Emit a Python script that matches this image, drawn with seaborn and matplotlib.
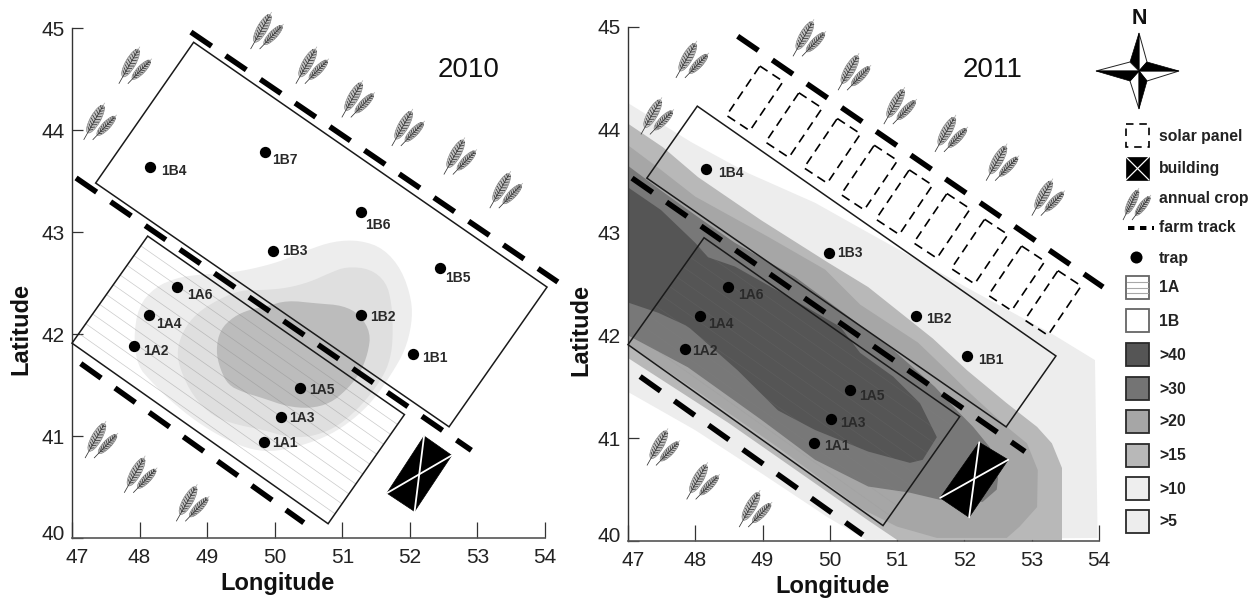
import numpy as np
import pandas as pd
import matplotlib
matplotlib.use("Agg")
import matplotlib.pyplot as plt
import seaborn as sns
from matplotlib.patches import Polygon, Ellipse, Rectangle
from matplotlib.collections import LineCollection
from matplotlib.transforms import Affine2D, ScaledTranslation

# ---------- data (longitude / latitude) ----------
traps_2010 = ["1B4", "1B7", "1B6", "1B3", "1B5", "1A6", "1B2", "1A4", "1A2", "1B1", "1A5", "1A3", "1A1"]
lon_2010 = [48.16, 49.85, 51.27, 49.97, 52.44, 48.56, 51.27, 48.14, 47.92, 52.04, 50.38, 50.09, 49.84]
lat_2010 = [43.64, 43.78, 43.20, 42.81, 42.65, 42.46, 42.19, 42.19, 41.88, 41.80, 41.47, 41.19, 40.94]
off_2010 = [(11, 4), (8, 8), (5, 13), (9, 0), (6, 10), (10, 8), (10, 2), (7, 9), (9, 5), (10, 4), (9, 2), (8, 1), (8, 1)]

traps_2011 = ["1B4", "1B3", "1A6", "1A4", "1A2", "1A5", "1A3", "1A1", "1B2", "1B1"]
lon_2011 = [48.16, 49.98, 48.49, 48.07, 47.84, 50.30, 50.01, 49.76, 51.28, 52.04]
lat_2011 = [43.62, 42.80, 42.47, 42.19, 41.87, 41.47, 41.19, 40.95, 42.19, 41.80]
off_2011 = [(12, 4), (9, 0), (10, 8), (8, 8), (8, 2), (9, 6), (10, 4), (10, 3), (10, 3), (11, 4)]

field_1B_2010 = [(48.80, 44.86), (54.03, 42.46), (52.58, 41.09), (47.35, 43.48)]
field_1A_2010 = [(48.12, 42.96), (51.92, 41.21), (50.79, 40.14), (47.00, 41.91)]
field_1B_2011 = [(48.03, 44.23), (53.36, 41.80), (52.62, 41.11), (47.28, 43.53)]
field_1A_2011 = [(48.13, 42.95), (51.93, 41.21), (50.79, 40.15), (47.00, 41.91)]

building_2010 = [(52.21, 41.00), (52.62, 40.81), (52.07, 40.26), (51.66, 40.44)]
building_2011 = [(52.22, 40.96), (52.65, 40.79), (52.07, 40.23), (51.64, 40.42)]

tracks_2010 = [[(48.76, 44.96), (54.19, 42.51)], [(47.06, 43.53), (52.91, 40.86)], [(47.13, 41.71), (50.43, 40.15)]]
tracks_2011 = [[(48.63, 44.91), (54.06, 42.47)], [(47.06, 43.53), (52.90, 40.87)], [(47.18, 41.60), (50.49, 40.06)]]

crops_2010 = [(47.93, 44.64), (49.88, 44.98), (50.55, 44.64), (51.23, 44.31), (51.97, 44.03), (52.74, 43.75),
              (53.42, 43.42), (47.41, 44.09), (47.43, 40.97), (48.01, 40.63), (48.78, 40.35)]
crops_2011 = [(47.95, 44.69), (49.69, 44.90), (50.36, 44.57), (51.04, 44.24), (51.80, 43.97), (52.56, 43.69),
              (53.24, 43.35), (47.43, 44.14), (47.52, 40.92), (48.11, 40.59), (48.89, 40.32)]

panel_lon = [48.96, 49.54, 50.11, 50.66, 51.18, 51.74, 52.30, 52.85, 53.39]
panel_lat = [44.62, 44.36, 44.11, 43.85, 43.61, 43.38, 43.13, 42.87, 42.63]
panel_right = (0.346, -0.149)
panel_left = (-0.495, -0.48)

contour_2010_light = [(51.26, 42.92), (51.61, 42.84), (51.88, 42.63), (52.03, 42.33), (52.03, 42.10), (51.93, 41.84),
                      (51.73, 41.61), (51.46, 41.35), (51.16, 41.16), (50.82, 41.01), (50.42, 40.91), (50.03, 40.85),
                      (49.68, 40.86), (49.29, 40.96), (48.84, 41.14), (48.45, 41.35), (48.15, 41.55), (47.98, 41.68),
                      (47.91, 41.94), (47.98, 42.27), (48.23, 42.46), (48.55, 42.55), (48.84, 42.58), (49.34, 42.60),
                      (49.68, 42.64), (50.08, 42.71), (50.47, 42.82), (50.87, 42.91)]
contour_2010_mid = [(51.06, 42.66), (51.41, 42.64), (51.65, 42.51), (51.73, 42.30), (51.75, 42.04), (51.73, 41.81),
                    (51.63, 41.61), (51.41, 41.40), (51.16, 41.22), (50.87, 41.07), (50.52, 40.99), (50.18, 40.99),
                    (49.83, 41.06), (49.44, 41.11), (49.09, 41.19), (48.79, 41.39), (48.60, 41.65), (48.55, 41.84),
                    (48.65, 42.04), (48.84, 42.20), (49.14, 42.33), (49.49, 42.43), (49.83, 42.43), (50.18, 42.45),
                    (50.52, 42.51), (50.82, 42.60)]
contour_2010_dark = [(50.18, 42.33), (50.62, 42.30), (51.01, 42.28), (51.26, 42.19), (51.42, 42.01), (51.38, 41.81),
                     (51.26, 41.61), (51.06, 41.45), (50.82, 41.32), (50.52, 41.27), (50.18, 41.29), (49.83, 41.37),
                     (49.53, 41.43), (49.31, 41.50), (49.19, 41.66), (49.13, 41.84), (49.19, 42.04), (49.39, 42.17),
                     (49.63, 42.24), (49.88, 42.27)]

contour_2011_gt5 = [(47.00, 44.26), (47.94, 43.88), (48.78, 43.58), (49.78, 43.29), (50.57, 43.00), (52.19, 42.41),
                    (53.34, 42.00), (53.94, 41.76), (53.98, 40.03), (50.54, 40.01), (49.97, 40.23), (48.98, 40.66),
                    (47.995, 41.08), (47.00, 41.45)]
contour_2011_gt15 = [(47.00, 44.06), (47.52, 43.83), (48.04, 43.54), (48.98, 43.12), (49.97, 42.71), (50.57, 42.47),
                     (51.53, 41.97), (52.04, 41.66), (52.63, 41.34), (53.08, 41.11), (53.30, 40.95), (53.45, 40.71),
                     (53.45, 40.01), (51.00, 40.01), (50.57, 40.20), (48.49, 41.15), (47.00, 41.78)]
contour_2011_gt20 = [(47.00, 43.85), (47.49, 43.61), (48.00, 43.35), (49.08, 42.96), (49.93, 42.64), (50.45, 42.30),
                     (51.31, 41.93), (51.74, 41.66), (52.08, 41.44), (52.63, 41.11), (52.93, 40.95), (53.09, 40.69),
                     (53.08, 40.33), (52.82, 40.14), (52.63, 40.03), (51.59, 40.03), (51.00, 40.14), (50.45, 40.32),
                     (49.23, 40.91), (48.00, 41.47), (47.00, 41.91)]
contour_2011_gt30 = [(47.00, 43.65), (47.49, 43.41), (48.00, 43.17), (48.59, 42.90), (49.48, 42.57), (50.45, 42.10),
                     (50.94, 41.86), (51.56, 41.50), (51.89, 41.27), (52.13, 41.11), (52.38, 40.91), (52.50, 40.61),
                     (52.48, 40.50), (52.27, 40.38), (51.64, 40.40), (51.19, 40.47), (50.57, 40.53), (49.78, 40.79),
                     (48.98, 41.18), (47.89, 41.69), (47.00, 42.00)]
contour_2011_gt40 = [(47.00, 43.44), (47.49, 43.22), (48.00, 42.90), (48.19, 42.76), (48.59, 42.67), (49.48, 42.34),
                     (50.16, 42.08), (50.45, 41.83), (50.94, 41.60), (51.34, 41.34), (51.59, 41.01), (51.38, 40.79),
                     (51.19, 40.76), (50.57, 40.87), (49.78, 41.08), (49.23, 41.27), (48.63, 41.66), (47.92, 42.07),
                     (47.85, 42.10), (47.45, 42.22), (47.00, 42.32)]

x_ticks = [47, 48, 49, 50, 51, 52, 53, 54]
y_ticks = [40, 41, 42, 43, 44, 45]
legend_swatch_labels = ["1A", "1B", ">40", ">30", ">20", ">15", ">10", ">5"]
legend_swatch_colors = ["white", "white", "#555555", "#747474", "#a6a6a6", "#b8b8b8", "#eeeeee", "#ededed"]

# ---------- style ----------
sns.set_theme(style="ticks")
plt.rcParams["font.family"] = ["Liberation Sans", "DejaVu Sans"]
W, H = 1258, 599
fig = plt.figure(figsize=(W / 100, H / 100), dpi=100, facecolor="white")
PX = 0.72  # points per pixel


def make_axes(l, r, b, t):
    ax = fig.add_axes([l / W, (H - b) / H, (r - l) / W, (b - t) / H])
    ax.set_xlim(47, 54)
    ax.set_ylim(40, 45)
    ax.set_facecolor("none")
    sns.despine(ax=ax)
    ax.spines["left"].set_color("#333333")
    ax.spines["left"].set_linewidth(1.0)
    ax.spines["bottom"].set_color("#555555")
    ax.spines["bottom"].set_linewidth(1.2)
    ax.set_xticks(x_ticks)
    ax.set_xticklabels([str(v) for v in x_ticks], fontsize=15, color="#222222")
    ax.set_yticks(y_ticks)
    ax.set_yticklabels([str(v) for v in y_ticks], fontsize=15, color="#222222")
    ax.tick_params(axis="x", direction="in", length=16 * PX, width=0.9, color="#333333", pad=7)
    ax.tick_params(axis="y", direction="in", length=11 * PX, width=0.9, color="#333333", pad=5)
    # first labels sit slightly off their ticks in the reference
    lab = ax.get_xticklabels()[0]
    lab.set_transform(lab.get_transform() + ScaledTranslation(5 / 100, 0, fig.dpi_scale_trans))
    lab = ax.get_yticklabels()[0]
    lab.set_transform(lab.get_transform() + ScaledTranslation(0, 6 / 100, fig.dpi_scale_trans))
    return ax


def chaikin(pts, n=2):
    p = np.asarray(pts, float)
    for _ in range(n):
        q = np.roll(p, -1, axis=0)
        p = np.column_stack([0.75 * p + 0.25 * q, 0.25 * p + 0.75 * q]).reshape(-1, 2)
    return p


def draw_track(ax, seg, z=6):
    (x0, y0), (x1, y1) = seg
    lw = 5.5 * PX
    ax.plot([x0, x1], [y0, y1], color="black", lw=lw, dashes=(25 / 5.5, 17 / 5.5),
            dash_capstyle="butt", clip_on=False, zorder=z)


def draw_field(ax, pts, hatch_alpha, n_hatch=12):
    p = np.asarray(pts)
    segs = []
    for f in np.linspace(0, 1, n_hatch)[1:-1]:
        segs.append([p[0] + f * (p[3] - p[0]), p[1] + f * (p[2] - p[1])])
    ax.add_collection(LineCollection(segs, colors="#8a8a8a", linewidths=0.5, alpha=hatch_alpha, zorder=3),
                      autolim=False)


def outline(ax, pts):
    ax.add_patch(Polygon(pts, closed=True, fill=False, ec="#1a1a1a", lw=1.1, clip_on=False, zorder=5))


def draw_building(ax, pts):
    p = np.asarray(pts)
    ax.add_patch(Polygon(p, closed=True, fc="black", ec="black", lw=0.5, clip_on=False, zorder=6))
    ax.plot(p[[0, 2], 0], p[[0, 2], 1], color="white", lw=1.3, zorder=7, clip_on=False)
    ax.plot(p[[1, 3], 0], p[[1, 3], 1], color="white", lw=1.3, zorder=7, clip_on=False)


def draw_ear(ax, base, tip, trans, width):
    base, tip = np.array(base, float), np.array(tip, float)
    d = tip - base
    L = np.hypot(*d)
    u = d / L
    n = np.array([-u[1], u[0]])
    mid = base + 0.56 * d
    ax.add_patch(Ellipse(mid, L * 0.74, width * 2.1, angle=np.degrees(np.arctan2(d[1], d[0])),
                         fc="#c4c4c4", ec="#777777", lw=0.4, transform=trans, clip_on=False, zorder=4))
    segs = [[base, base + 0.92 * d]]
    for t in np.linspace(0.26, 0.84, 9):
        c = base + t * d
        w = width * (1 - 0.5 * abs(t - 0.52) / 0.34)
        segs.append([c, c + 0.06 * L * u + n * w])
        segs.append([c, c + 0.06 * L * u - n * w])
    ax.add_collection(LineCollection(segs, colors="#333333", linewidths=0.55, transform=trans,
                                     clip_on=False, zorder=4), autolim=False)
    ax.add_collection(LineCollection([[base + 0.9 * d, tip]], colors="#aaaaaa", linewidths=0.5, transform=trans,
                                     clip_on=False, zorder=4), autolim=False)


def draw_wheat(ax, x, y):
    trans = Affine2D().scale(1.0) + ScaledTranslation(x, y, ax.transData)
    draw_ear(ax, (-16, -19), (5, 18), trans, 4.8)
    draw_ear(ax, (-7, -19), (17, 6), trans, 3.8)


def draw_traps(ax, names, lons, lats, offs):
    df = pd.DataFrame({"lon": lons, "lat": lats})
    sns.scatterplot(data=df, x="lon", y="lat", ax=ax, color="black", s=66, linewidth=0, zorder=8, legend=False)
    for nm, x, y, (dx, dy) in zip(names, lons, lats, offs):
        ax.annotate(nm, (x, y), xytext=(dx * PX, -dy * PX), textcoords="offset points", fontsize=10,
                    fontweight="bold", color="#2a2a2a", va="center", ha="left", zorder=9)


def finish(ax, xl_pos, yl_pos):
    ax.set_xlabel("Longitude", fontsize=17, fontweight="bold", color="#111111", va="center")
    ax.set_ylabel("Latitude", fontsize=17, fontweight="bold", color="#111111", va="center")
    ax.xaxis.set_label_coords(*xl_pos)
    ax.yaxis.set_label_coords(*yl_pos)


# ---------- 2010 ----------
ax1 = make_axes(72, 545, 538, 28)
for pts, col in [(contour_2010_light, "#ededed"), (contour_2010_mid, "#dfdfdf"), (contour_2010_dark, "#bcbcbc")]:
    ax1.add_patch(Polygon(chaikin(pts), closed=True, fc=col, ec="none", zorder=1))
draw_field(ax1, field_1A_2010, 0.45)
outline(ax1, field_1A_2010)
outline(ax1, field_1B_2010)
for seg in tracks_2010:
    draw_track(ax1, seg)
draw_building(ax1, building_2010)
for x, y in crops_2010:
    draw_wheat(ax1, x, y)
draw_traps(ax1, traps_2010, lon_2010, lat_2010, off_2010)
ax1.text(52.87, 44.59, "2010", fontsize=20, ha="center", va="center", color="#111111")
finish(ax1, (0.4355, -0.09), (-0.108, 0.41))

# ---------- 2011 ----------
ax2 = make_axes(628, 1099, 541, 27)
for pts, col in [(contour_2011_gt5, "#ededed"), (contour_2011_gt15, "#b8b8b8"), (contour_2011_gt20, "#a6a6a6"),
                 (contour_2011_gt30, "#787878"), (contour_2011_gt40, "#555555")]:
    ax2.add_patch(Polygon(pts, closed=True, fc=col, ec="none", zorder=1))
draw_field(ax2, field_1A_2011, 0.15)
outline(ax2, field_1A_2011)
outline(ax2, field_1B_2011)
for seg in tracks_2011:
    draw_track(ax2, seg)
draw_building(ax2, building_2011)
for x, y in crops_2011:
    draw_wheat(ax2, x, y)
for x, y in zip(panel_lon, panel_lat):
    p = [(x, y), (x + panel_right[0], y + panel_right[1]),
         (x + panel_right[0] + panel_left[0], y + panel_right[1] + panel_left[1]),
         (x + panel_left[0], y + panel_left[1])]
    ax2.add_patch(Polygon(p, closed=True, fill=False, ec="black", lw=1.2, linestyle=(0, (5.5, 3.5)),
                          clip_on=False, zorder=5))
draw_traps(ax2, traps_2011, lon_2011, lat_2011, off_2011)
ax2.text(52.42, 44.58, "2011", fontsize=20, ha="center", va="center", color="#111111")
finish(ax2, (0.435, -0.0885), (-0.0998, 0.41))

# ---------- legend and compass (overlay in figure pixels) ----------
ov = fig.add_axes([0, 0, 1, 1], zorder=10)
ov.set_xlim(0, W)
ov.set_ylim(H, 0)
ov.axis("off")
ov.patch.set_alpha(0)

ov.text(1139, 18, "N", fontsize=15.5, fontweight="bold", ha="center", va="center", color="#111111")
cx, cy = 1139, 71
tips = [(1139, 33), (1179, 71), (1139, 109), (1096, 71)]
inner = [(1130, 62), (1147, 62), (1147, 81), (1130, 81)]  # NW, NE, SE, SW
for i, tip in enumerate(tips):
    black_side = inner[i]
    white_side = inner[(i + 1) % 4]
    ov.add_patch(Polygon([tip, white_side, (cx, cy)], closed=True, fc="white", ec="#222222", lw=0.7))
    ov.add_patch(Polygon([tip, black_side, (cx, cy)], closed=True, fc="black", ec="black", lw=0.5))

TX = 1159
FS = 11.3
ov.add_patch(Rectangle((1126, 124), 23, 23, fill=False, ec="black", lw=1.2, linestyle=(0, (4.5, 3.5))))
ov.text(TX, 137, "solar panel", fontsize=FS, fontweight="bold", va="center", color="#222222")
ov.add_patch(Rectangle((1126, 157), 23, 23, fc="black", ec="black", lw=0.5))
ov.plot([1126, 1149], [157, 180], color="white", lw=0.9)
ov.plot([1126, 1149], [180, 157], color="white", lw=0.9)
ov.text(TX, 168, "building", fontsize=FS, fontweight="bold", va="center", color="#222222")
t = Affine2D().scale(1.0) + ScaledTranslation(1137, 204, ov.transData)
draw_ear(ov, (-14, -16), (2, 16), t, 3.8)
draw_ear(ov, (-5, -16), (14, 9), t, 3.4)
ov.text(TX, 199, "annual crop", fontsize=FS, fontweight="bold", va="center", color="#222222")
ov.plot([1128, 1154], [228, 228], color="black", lw=4 * PX, dashes=(1.6, 1.4), dash_capstyle="butt")
ov.text(TX, 228, "farm track", fontsize=FS, fontweight="bold", va="center", color="#222222")
ov.scatter([1136], [257], s=75, color="black", linewidths=0)
ov.text(TX, 258, "trap", fontsize=FS, fontweight="bold", va="center", color="#222222")

swatch_tops = [276, 309, 343, 377, 410, 444, 477, 510]
for lab, col, top in zip(legend_swatch_labels, legend_swatch_colors, swatch_tops):
    dark = lab not in ("1A", "1B")
    ov.add_patch(Rectangle((1126, top), 23, 23, fc=col, ec="#2a2a2a" if dark else "#666666", lw=1.3))
    if lab == "1A":
        for dy in (6, 12, 17):
            ov.plot([1127, 1148], [top + dy, top + dy], color="#a8a8a8", lw=0.8)
    ov.text(TX, top + 12, lab, fontsize=FS, fontweight="bold", va="center", color="#222222")

fig.savefig("out.png", dpi=100, facecolor="white")
